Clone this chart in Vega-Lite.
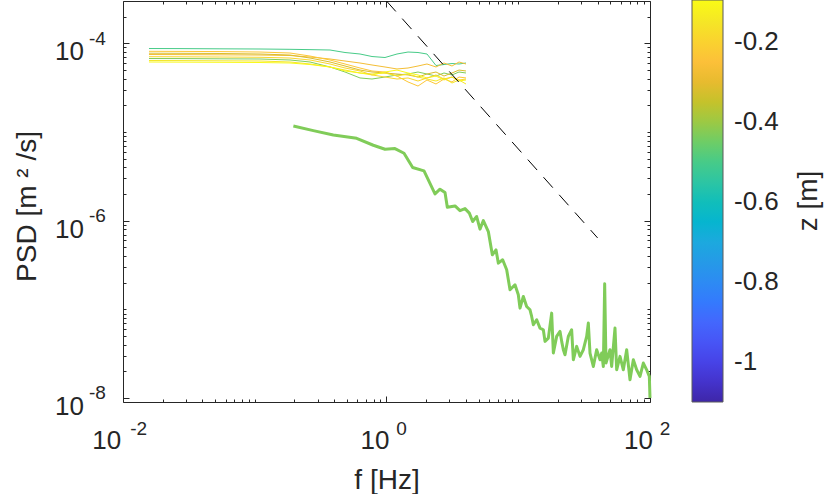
{
  "$schema": "https://vega.github.io/schema/vega-lite/v6.json",
  "width": 527,
  "height": 401,
  "autosize": {"type": "none"},
  "padding": {"left": 123, "top": 1, "right": 180, "bottom": 92},
  "background": "white",
  "config": {
    "view": {"stroke": "#262626", "strokeWidth": 1},
    "font": "Liberation Sans",
    "axis": {"grid": false, "labelFont": "Liberation Sans", "titleFont": "Liberation Sans", "labelColor": "#262626", "titleColor": "#262626", "titleFontWeight": "normal", "labelFlush": false, "labelOverlap": false, "labelBound": false, "tickColor": "#262626", "domainColor": "#262626"}
  },
  "datasets": {
    "thin": [
      {"f": 0.01575, "A": 8.74e-5, "B": 6.74e-5, "C": 7.48e-5, "D": 8.13e-5, "E": 7.74e-5, "F": 6.40e-5, "G": 6.16e-5, "H": 7.07e-5},
      {"f": 0.02708, "A": 8.72e-5, "B": 6.73e-5, "C": 7.46e-5, "D": 8.11e-5, "E": 7.72e-5, "F": 6.39e-5, "G": 6.14e-5, "H": 7.05e-5},
      {"f": 0.05446, "A": 8.67e-5, "B": 6.69e-5, "C": 7.42e-5, "D": 8.07e-5, "E": 7.68e-5, "F": 6.35e-5, "G": 6.11e-5, "H": 7.01e-5},
      {"f": 0.1096, "A": 8.63e-5, "B": 6.66e-5, "C": 7.38e-5, "D": 7.98e-5, "E": 7.58e-5, "F": 6.32e-5, "G": 6.08e-5, "H": 6.96e-5},
      {"f": 0.1851, "A": 8.56e-5, "B": 6.49e-5, "C": 7.29e-5, "D": 7.78e-5, "E": 7.38e-5, "F": 6.16e-5, "G": 6.00e-5, "H": 6.83e-5},
      {"f": 0.2626, "A": 8.49e-5, "B": 6.16e-5, "C": 7.01e-5, "D": 7.19e-5, "E": 6.83e-5, "F": 5.85e-5, "G": 5.77e-5, "H": 6.49e-5},
      {"f": 0.3725, "A": 8.41e-5, "B": 5.41e-5, "C": 6.66e-5, "D": 6.49e-5, "E": 6.16e-5, "F": 5.41e-5, "G": 5.41e-5, "H": 5.85e-5},
      {"f": 0.4842, "A": 7.88e-5, "B": 4.75e-5, "C": 6.32e-5, "D": 5.85e-5, "E": 5.55e-5, "F": 5.00e-5, "G": 4.88e-5, "H": 5.27e-5},
      {"f": 0.6293, "A": 7.58e-5, "B": 4.07e-5, "C": 6.00e-5, "D": 5.27e-5, "E": 5.00e-5, "F": 4.63e-5, "G": 4.63e-5, "H": 4.88e-5},
      {"f": 0.7762, "A": 7.10e-5, "B": 3.96e-5, "C": 5.70e-5, "D": 4.88e-5, "E": 4.75e-5, "F": 4.51e-5, "G": 4.40e-5, "H": 4.40e-5},
      {"f": 0.9741, "A": 6.92e-5, "B": 4.17e-5, "C": 5.41e-5, "D": 4.75e-5, "E": 4.63e-5, "F": 4.63e-5, "G": 4.75e-5, "H": 4.17e-5},
      {"f": 1.2013, "A": 7.58e-5, "B": 4.40e-5, "C": 5.14e-5, "D": 4.28e-5, "E": 4.51e-5, "F": 4.28e-5, "G": 5.00e-5, "H": 3.96e-5},
      {"f": 1.4563, "A": 7.98e-5, "B": 4.51e-5, "C": 5.27e-5, "D": 3.67e-5, "E": 4.40e-5, "F": 4.51e-5, "G": 4.63e-5, "H": 4.07e-5},
      {"f": 1.7345, "A": 7.88e-5, "B": 4.75e-5, "C": 5.55e-5, "D": 3.30e-5, "E": 4.17e-5, "F": 4.17e-5, "G": 4.40e-5, "H": 3.76e-5},
      {"f": 2.0295, "A": 7.58e-5, "B": 4.51e-5, "C": 5.85e-5, "D": 3.86e-5, "E": 4.51e-5, "F": 3.96e-5, "G": 4.07e-5, "H": 4.07e-5},
      {"f": 2.3748, "A": 5.62e-5, "B": 4.28e-5, "C": 5.41e-5, "D": 3.48e-5, "E": 4.75e-5, "F": 3.76e-5, "G": 4.28e-5, "H": 4.40e-5},
      {"f": 2.7318, "A": 5.77e-5, "B": 4.63e-5, "C": 6.00e-5, "D": 3.96e-5, "E": 4.28e-5, "F": 4.07e-5, "G": 3.86e-5, "H": 3.96e-5},
      {"f": 3.1424, "A": 5.92e-5, "B": 4.40e-5, "C": 5.55e-5, "D": 3.67e-5, "E": 4.63e-5, "F": 3.57e-5, "G": 4.17e-5, "H": 4.17e-5},
      {"f": 3.5507, "A": 5.85e-5, "B": 4.75e-5, "C": 6.16e-5, "D": 4.17e-5, "E": 5.00e-5, "F": 3.86e-5, "G": 3.76e-5, "H": 3.86e-5},
      {"f": 4.0119, "A": 6.00e-5, "B": 4.63e-5, "C": 5.85e-5, "D": 4.07e-5, "E": 4.88e-5, "F": 3.48e-5, "G": 3.86e-5, "H": 3.96e-5}
    ],
    "zs": [
      {"id": "A", "z": -0.5},
      {"id": "B", "z": -0.43},
      {"id": "C", "z": -0.27},
      {"id": "D", "z": -0.23},
      {"id": "E", "z": -0.32},
      {"id": "F", "z": -0.15},
      {"id": "G", "z": -0.1},
      {"id": "H", "z": -0.19}
    ],
    "thick": [
      {"f": 0.1964, "P": 1.171e-5}, {"f": 0.2783, "P": 1.038e-5}, {"f": 0.3948, "P": 9.27e-6},
      {"f": 0.5936, "P": 8.51e-6}, {"f": 0.7944, "P": 7.10e-6}, {"f": 0.974, "P": 6.40e-6},
      {"f": 1.160, "P": 6.51e-6}, {"f": 1.358, "P": 5.77e-6}, {"f": 1.580, "P": 3.98e-6},
      {"f": 1.926, "P": 3.65e-6}, {"f": 2.334, "P": 2.01e-6}, {"f": 2.547, "P": 2.27e-6},
      {"f": 2.780, "P": 2.08e-6}, {"f": 2.895, "P": 1.42e-6}, {"f": 3.311, "P": 1.47e-6},
      {"f": 3.613, "P": 1.30e-6}, {"f": 3.943, "P": 1.37e-6}, {"f": 4.254, "P": 1.22e-6},
      {"f": 4.508, "P": 9.80e-7}, {"f": 4.834, "P": 1.116e-6}, {"f": 5.125, "P": 8.04e-7},
      {"f": 5.433, "P": 1.006e-6}, {"f": 5.929, "P": 7.56e-7}, {"f": 6.358, "P": 4.13e-7},
      {"f": 6.779, "P": 4.70e-7}, {"f": 7.062, "P": 3.33e-7}, {"f": 7.615, "P": 3.63e-7},
      {"f": 8.169, "P": 2.80e-7}, {"f": 8.659, "P": 1.666e-7}, {"f": 9.447, "P": 1.897e-7},
      {"f": 10.01, "P": 1.464e-7}, {"f": 10.31, "P": 1.036e-7}, {"f": 10.93, "P": 1.402e-7},
      {"f": 11.58, "P": 1.082e-7}, {"f": 12.28, "P": 9.92e-8}, {"f": 12.64, "P": 8.35e-8},
      {"f": 13.02, "P": 6.73e-8}, {"f": 13.80, "P": 7.66e-8}, {"f": 14.63, "P": 6.17e-8},
      {"f": 15.50, "P": 5.91e-8}, {"f": 15.96, "P": 4.37e-8}, {"f": 16.92, "P": 4.76e-8},
      {"f": 17.93, "P": 9.10e-8}, {"f": 18.47, "P": 3.23e-8}, {"f": 19.57, "P": 4.97e-8},
      {"f": 20.75, "P": 5.66e-8}, {"f": 21.36, "P": 4.37e-8}, {"f": 21.99, "P": 3.52e-8},
      {"f": 22.64, "P": 3.09e-8}, {"f": 23.99, "P": 4.97e-8}, {"f": 25.43, "P": 5.91e-8},
      {"f": 26.19, "P": 2.71e-8}, {"f": 27.76, "P": 3.84e-8}, {"f": 29.43, "P": 2.96e-8},
      {"f": 31.19, "P": 3.52e-8}, {"f": 33.06, "P": 4.97e-8}, {"f": 34.03, "P": 7.02e-8},
      {"f": 35.04, "P": 3.23e-8}, {"f": 37.14, "P": 2.28e-8}, {"f": 39.37, "P": 3.52e-8},
      {"f": 41.74, "P": 2.71e-8}, {"f": 42.97, "P": 3.23e-8}, {"f": 44.24, "P": 2.28e-8},
      {"f": 45.29, "P": 1.947e-7}, {"f": 46.35, "P": 2.49e-8}, {"f": 49.69, "P": 3.52e-8},
      {"f": 51.17, "P": 2.28e-8}, {"f": 54.24, "P": 6.17e-8}, {"f": 55.85, "P": 2.09e-8},
      {"f": 59.19, "P": 2.96e-8}, {"f": 62.75, "P": 2.09e-8}, {"f": 66.52, "P": 3.52e-8},
      {"f": 70.50, "P": 1.615e-8}, {"f": 74.73, "P": 2.71e-8}, {"f": 79.22, "P": 2.09e-8},
      {"f": 83.97, "P": 1.762e-8}, {"f": 89.01, "P": 2.49e-8}, {"f": 94.34, "P": 2.09e-8},
      {"f": 98.83, "P": 1.762e-8}, {"f": 100, "P": 1.005e-8}
    ],
    "dash": [
      {"f": 1, "P": 0.0003},
      {"f": 40, "P": 6.41e-7}
    ]
  },
  "layer": [
    {
      "data": {"name": "thin"},
      "transform": [
        {"fold": ["A", "B", "C", "D", "E", "F", "G", "H"], "as": ["id", "P"]},
        {"lookup": "id", "from": {"data": {"name": "zs"}, "key": "id", "fields": ["z"]}}
      ],
      "mark": {"type": "line", "strokeWidth": 1},
      "encoding": {
        "x": {"field": "f", "type": "quantitative",
          "scale": {"type": "log", "domain": [0.01, 100], "nice": false},
          "axis": {"orient": "bottom", "values": [0.01, 1, 100], "domain": false, "ticks": false,
            "labelExpr": "'10'", "labelFontSize": 26, "labelAlign": "right", "labelBaseline": "alphabetic",
            "labelPadding": 46.5,
            "labelOffset": {"condition": {"test": "datum.value < 0.1", "value": -2.3}, "value": 2.5},
            "title": "f [Hz]", "titleFontSize": 28, "titleX": 263.5, "titleY": 86, "titleAlign": "center", "titleBaseline": "alphabetic"}},
        "y": {"field": "P", "type": "quantitative",
          "scale": {"type": "log", "domain": [9.06e-9, 0.0003], "nice": false},
          "axis": {"orient": "left", "values": [1e-8, 1e-6, 1e-4], "domain": false, "ticks": false,
            "labelExpr": "'10'", "labelFontSize": 26, "labelAlign": "right", "labelBaseline": "alphabetic",
            "labelPadding": 39.5, "labelOffset": 16.3,
            "title": "PSD [m  ² /s]", "titleFontSize": 28, "titleAngle": 270, "titleX": -88, "titleY": 205, "titleAlign": "center", "titleBaseline": "alphabetic"}},
        "color": {"field": "z", "type": "quantitative",
          "scale": {
            "domain": [-1.1, -1.04975, -0.9995, -0.94925, -0.899, -0.84875, -0.7985, -0.74825, -0.698, -0.64775, -0.5975, -0.54725, -0.497, -0.44675, -0.3965, -0.34625, -0.296, -0.24575, -0.1955, -0.14525, -0.095],
            "range": ["#3e26a8", "#4433cc", "#4743e7", "#4755f6", "#4367fd", "#347afd", "#2d8cf3", "#259be7", "#1caade", "#05b6ce", "#12beb9", "#2fc5a2", "#48cb86", "#71cd64", "#9fc942", "#c8c129", "#eaba30", "#fec13a", "#fad42e", "#f5e825", "#f9fb15"],
            "interpolate": "rgb"},
          "legend": {"orient": "none", "legendX": 569, "legendY": -1, "direction": "vertical",
            "gradientLength": 402, "gradientThickness": 31, "gradientStrokeColor": "#5a5a5a", "gradientStrokeWidth": 1,
            "values": [-1, -0.8, -0.6, -0.4, -0.2], "labelExpr": "'' + datum.value",
            "labelFont": "Liberation Sans", "labelFontSize": 26, "labelColor": "#262626", "labelOffset": 11, "labelOverlap": false,
            "title": "z [m]", "titleFont": "Liberation Sans", "titleFontSize": 28, "titleFontWeight": "normal", "titleColor": "#262626",
            "titleOrient": "right", "titleAnchor": "middle", "titlePadding": 16, "padding": 0, "offset": 0,
            "encode": {"title": {"update": {"angle": {"value": 270}, "baseline": {"value": "top"}, "align": {"value": "center"}}}}}},
        "detail": {"field": "id", "type": "nominal"}
      }
    },
    {
      "data": {"name": "thick"},
      "mark": {"type": "line", "strokeWidth": 3, "strokeJoin": "round"},
      "encoding": {
        "x": {"field": "f", "type": "quantitative",
          "axis": {"orient": "bottom", "values": [0.01, 1, 100], "domain": false, "ticks": false,
            "labelExpr": "datum.value < 0.1 ? '-2' : datum.value < 10 ? '0' : '2'", "labelFontSize": 19, "labelAlign": "left", "labelBaseline": "alphabetic",
            "labelPadding": 32.5,
            "labelOffset": {"condition": {"test": "datum.value < 0.1", "value": 6.7}, "value": 9.3},
            "title": null}},
        "y": {"field": "P", "type": "quantitative",
          "axis": {"orient": "left", "values": [1e-8, 1e-6, 1e-4], "domain": false, "ticks": false,
            "labelExpr": "datum.value < 0.0000001 ? '-8' : datum.value < 0.00001 ? '-6' : '-4'", "labelFontSize": 19, "labelAlign": "left", "labelBaseline": "alphabetic",
            "labelPadding": 34.5, "labelOffset": 0.7,
            "title": null}},
        "color": {"datum": -0.43, "type": "quantitative", "legend": null}
      }
    },
    {
      "data": {"name": "dash"},
      "mark": {"type": "line", "strokeWidth": 1, "color": "black", "strokeDash": [14, 9.6]},
      "encoding": {
        "x": {"field": "f", "type": "quantitative",
          "axis": {"orient": "bottom", "values": [0.01,0.02,0.03,0.04,0.05,0.06,0.07,0.08,0.09,0.1,0.2,0.3,0.4,0.5,0.6,0.7,0.8,0.9,1,2,3,4,5,6,7,8,9,10,20,30,40,50,60,70,80,90,100],
            "domain": false, "labels": false, "ticks": true, "tickWidth": 1,
            "tickSize": {"condition": {"test": "datum.value == 0.01 || datum.value == 1 || datum.value == 100", "value": -6}, "value": -3},
            "title": null}},
        "y": {"field": "P", "type": "quantitative",
          "axis": {"orient": "left", "values": [1e-8,2e-8,3e-8,4e-8,5e-8,6e-8,7e-8,8e-8,9e-8,1e-7,2e-7,3e-7,4e-7,5e-7,6e-7,7e-7,8e-7,9e-7,1e-6,2e-6,3e-6,4e-6,5e-6,6e-6,7e-6,8e-6,9e-6,1e-5,2e-5,3e-5,4e-5,5e-5,6e-5,7e-5,8e-5,9e-5,1e-4,2e-4],
            "domain": false, "labels": false, "ticks": true, "tickWidth": 1,
            "tickSize": {"condition": {"test": "datum.value == 0.00000001 || datum.value == 0.000001 || datum.value == 0.0001", "value": -6}, "value": -3},
            "title": null}}
      }
    },
    {
      "data": {"name": "dash"},
      "mark": {"type": "line", "opacity": 0},
      "encoding": {
        "x": {"field": "f", "type": "quantitative",
          "axis": {"orient": "top", "values": [0.01,0.02,0.03,0.04,0.05,0.06,0.07,0.08,0.09,0.1,0.2,0.3,0.4,0.5,0.6,0.7,0.8,0.9,1,2,3,4,5,6,7,8,9,10,20,30,40,50,60,70,80,90,100],
            "domain": false, "labels": false, "ticks": true, "tickWidth": 1,
            "tickSize": {"condition": {"test": "datum.value == 0.01 || datum.value == 1 || datum.value == 100", "value": -6}, "value": -3},
            "title": null}},
        "y": {"field": "P", "type": "quantitative",
          "axis": {"orient": "right", "values": [1e-8,2e-8,3e-8,4e-8,5e-8,6e-8,7e-8,8e-8,9e-8,1e-7,2e-7,3e-7,4e-7,5e-7,6e-7,7e-7,8e-7,9e-7,1e-6,2e-6,3e-6,4e-6,5e-6,6e-6,7e-6,8e-6,9e-6,1e-5,2e-5,3e-5,4e-5,5e-5,6e-5,7e-5,8e-5,9e-5,1e-4,2e-4],
            "domain": false, "labels": false, "ticks": true, "tickWidth": 1,
            "tickSize": {"condition": {"test": "datum.value == 0.00000001 || datum.value == 0.000001 || datum.value == 0.0001", "value": -6}, "value": -3},
            "title": null}}
      }
    }
  ],
  "resolve": {"scale": {"x": "shared", "y": "shared", "color": "shared"}, "axis": {"x": "independent", "y": "independent"}}
}
